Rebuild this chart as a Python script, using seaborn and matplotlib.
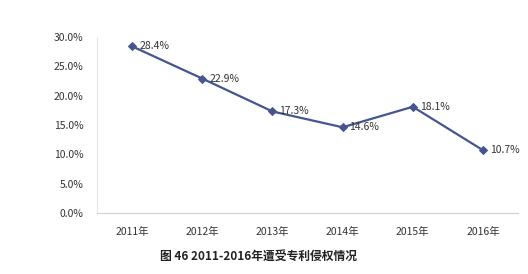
import pandas as pd
import matplotlib
matplotlib.use("Agg")
import matplotlib.pyplot as plt
import seaborn as sns
from matplotlib.ticker import FuncFormatter

sns.set_style("white")
plt.rcParams['font.family'] = ['Noto Sans CJK SC', 'DejaVu Sans']

years = ["2011年", "2012年", "2013年", "2014年", "2015年", "2016年"]
rates = [28.4, 22.9, 17.3, 14.6, 18.1, 10.7]
labels = ["28.4%", "22.9%", "17.3%", "14.6%", "18.1%", "10.7%"]

df = pd.DataFrame({"year": years, "rate": rates})

fig = plt.figure(figsize=(5.28, 2.74), dpi=100)
ax = fig.add_axes([0.184, 0.223, 0.797, 0.642])

sns.lineplot(data=df, x="year", y="rate", sort=False, ax=ax,
             color="#46548f", linewidth=1.6, marker="D", markersize=4.5,
             markeredgecolor="#46548f")

for i, (v, t) in enumerate(zip(rates, labels)):
    ax.annotate(t, (i, v), xytext=(5, 0), textcoords="offset points",
                ha="left", va="center", fontsize=7.5, color="#333333")

ax.set_xlim(-0.5, 5.5)
ax.set_ylim(0, 30)
ax.set_yticks([0, 5, 10, 15, 20, 25, 30])
ax.yaxis.set_major_formatter(FuncFormatter(lambda v, p: f"{v:.1f}%"))
ax.set_xlabel("")
ax.set_ylabel("")
ax.tick_params(axis="both", labelsize=7.5, colors="#333333", length=0)
ax.tick_params(axis="y", pad=10)
ax.tick_params(axis="x", pad=10)

for side in ["top", "right"]:
    ax.spines[side].set_visible(False)
ax.spines["left"].set_color("#e6e6e6")
ax.spines["bottom"].set_color("#d0d0d0")

fig.text(0.49, 0.06, "图 46 2011-2016年遭受专利侵权情况", ha="center",
         va="center", fontsize=8.5, fontweight="bold", color="#222222")

fig.savefig("out.png", dpi=100)
